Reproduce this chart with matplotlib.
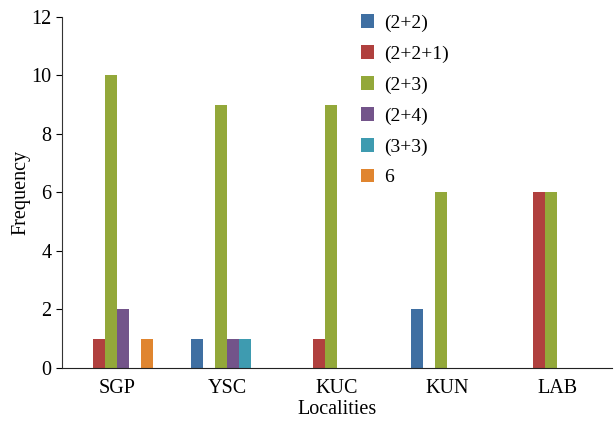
import numpy as np
import matplotlib
matplotlib.use('Agg')
import matplotlib.pyplot as plt

plt.rcParams['font.family'] = ['Liberation Serif', 'DejaVu Serif']

# Datos
localidades = ['SGP', 'YSC', 'KUC', 'KUN', 'LAB']
series = ['(2+2)', '(2+2+1)', '(2+3)', '(2+4)', '(3+3)', '6']
v_22 = [0, 1, 0, 2, 0]
v_221 = [1, 0, 1, 0, 6]
v_23 = [10, 9, 9, 6, 6]
v_24 = [2, 1, 0, 0, 0]
v_33 = [0, 1, 0, 0, 0]
v_6 = [1, 0, 0, 0, 0]
colores = ['#3F6FA2', '#B0403E', '#93A83A', '#73548A', '#3E9BB0', '#E0852F']

valores = [v_22, v_221, v_23, v_24, v_33, v_6]

fig = plt.figure(figsize=(6.14, 4.23), dpi=100)
ax = fig.add_axes([0.101, 0.130, 0.896, 0.830])

x = np.arange(len(localidades))
ancho = 0.109
for i, (nombre, vals, c) in enumerate(zip(series, valores, colores)):
    ax.bar(x + (i - 2.5) * ancho, vals, ancho, color=c, label=nombre)

ax.set_xlim(-0.5, len(localidades) - 0.5)
ax.set_ylim(0, 12)
ax.set_yticks(range(0, 13, 2))
ax.set_xticks(x)
ax.set_xticklabels(localidades)
ax.tick_params(axis='x', length=0, labelsize=14.5, pad=8)
ax.tick_params(axis='y', length=4, labelsize=14.5, direction='out')

for s in ['top', 'right']:
    ax.spines[s].set_visible(False)
ax.spines['left'].set_color('#333333')
ax.spines['bottom'].set_color('#222222')

ax.set_xlabel('Localities', fontsize=14.5, labelpad=1)
ax.set_ylabel('Frequency', fontsize=14.5, labelpad=1)

ax.legend(loc='upper left', bbox_to_anchor=(0.525, 1.035), frameon=False,
          fontsize=14, handlelength=0.7, handleheight=0.7, handletextpad=0.5,
          labelspacing=0.68, borderpad=0)

plt.savefig('out.png', dpi=100)
